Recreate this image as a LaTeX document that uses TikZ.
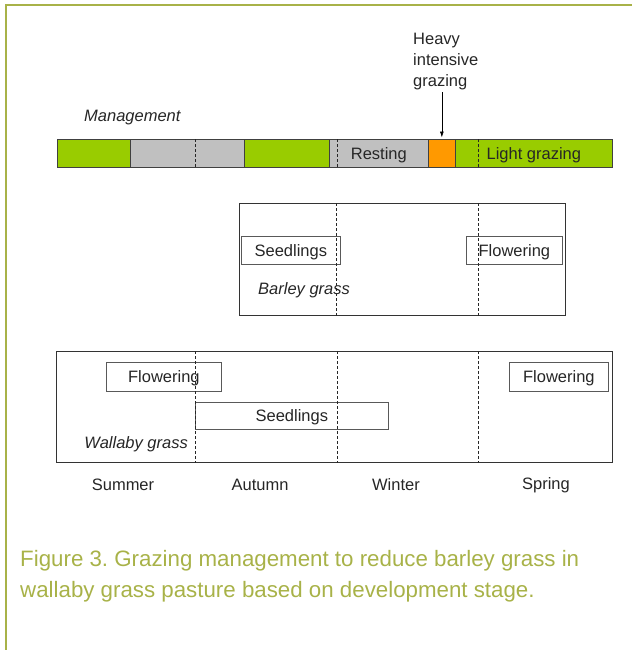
\documentclass[tikz,border=0pt]{standalone}
\usepackage{fontspec}
\setmainfont{Liberation Sans}
\usetikzlibrary{arrows.meta}
\definecolor{grazegreen}{RGB}{153,204,0}
\definecolor{restgray}{RGB}{192,192,192}
\definecolor{heavyorange}{RGB}{255,153,0}
\definecolor{captionolive}{RGB}{168,178,72}
\frenchspacing
\begin{document}
\begin{tikzpicture}[x=1pt,y=-1pt]
      \tikzstyle{txt}=[inner sep=0pt,text=black!85,font=\fontsize{16.5}{21}\selectfont]
      \tikzstyle{seg}=[txt,draw=black!75,line width=0.7pt,minimum height=28pt,anchor=north west,text height=11.8pt,text depth=0pt]
      \tikzstyle{stage}=[txt,draw=black!65,line width=0.7pt,minimum height=28pt,anchor=north west,text height=11.8pt,text depth=0pt]
      \tikzstyle{panel}=[draw=black!80,line width=0.8pt,inner sep=0pt,anchor=north west]
      \tikzstyle{divider}=[draw=black!85,line width=0.6pt,dash pattern=on 3pt off 2pt]

      \useasboundingbox (0,0) rectangle (632,650);
      \draw[captionolive,line width=2pt] (6,650) -- (6,5) -- (632,5);

      % management bar
      \node[txt,anchor=west] (mgmt) at (84,118) {\itshape Management};
      \node[seg,fill=grazegreen,minimum width=73pt] (graze1) at (57,139) {};
      \node[seg,fill=restgray,minimum width=114pt] (rest1) at (130,139) {};
      \node[seg,fill=grazegreen,minimum width=85pt] (graze2) at (244,139) {};
      \node[seg,fill=restgray,minimum width=99pt] (rest2) at (329,139) {Resting};
      \node[seg,fill=heavyorange,minimum width=27pt] (heavyseg) at (428,139) {};
      \node[seg,fill=grazegreen,minimum width=157pt] (light) at (455,139) {Light grazing};
      \foreach \x in {195,337,478}
        \draw[divider] (\x,0 |- graze1.north) -- (\x,0 |- graze1.south);

      \node[txt,anchor=north west,align=left] (heavy) at (413,33) {Heavy\\intensive\\grazing};
      \draw[-{Latex[length=6pt,width=4pt]},line width=0.7pt,shorten <=2pt,shorten >=1.5pt]
        (heavy.south -| heavyseg.north) -- (heavyseg.north);

      % barley grass
      \node[panel,minimum width=326pt,minimum height=112pt] (barley) at (239,203) {};
      \node[stage,minimum width=99pt] (bseed) at (241,236) {Seedlings};
      \node[stage,minimum width=96pt] (bflower) at (466,236) {Flowering};
      \node[txt,anchor=west] (barleylbl) at (258,290) {\itshape Barley grass};
      \foreach \x in {336,478}
        \draw[divider] (\x,0 |- barley.north) -- (\x,0 |- barley.south);

      % wallaby grass
      \node[panel,minimum width=556pt,minimum height=111pt] (wallaby) at (56,351) {};
      \node[stage,minimum width=115pt,minimum height=29pt] (wflower1) at (106,362) {Flowering};
      \node[stage,minimum width=193pt,minimum height=27pt] (wseed) at (195,402) {Seedlings};
      \node[stage,minimum width=99pt,minimum height=29pt] (wflower2) at (509,362) {Flowering};
      \node[txt,anchor=east] (wallabylbl) at (188,444) {\itshape Wallaby grass};
      \foreach \x in {195,337,478}
        \draw[divider] (\x,0 |- wallaby.north) -- (\x,0 |- wallaby.south);

      % seasons
      \node[txt] (summer) at (123,485) {Summer};
      \node[txt] (autumn) at (260,485) {Autumn};
      \node[txt] (winter) at (396,485) {Winter};
      \node[txt] (spring) at (546,485) {Spring};

      \node[inner sep=0pt,anchor=north west,align=left,text=captionolive,
        font=\fontsize{22.3}{31}\selectfont] (caption) at (20,550)
        {Figure 3. Grazing management to reduce barley grass in\\wallaby grass pasture based on development stage.};
    \end{tikzpicture}
\end{document}
